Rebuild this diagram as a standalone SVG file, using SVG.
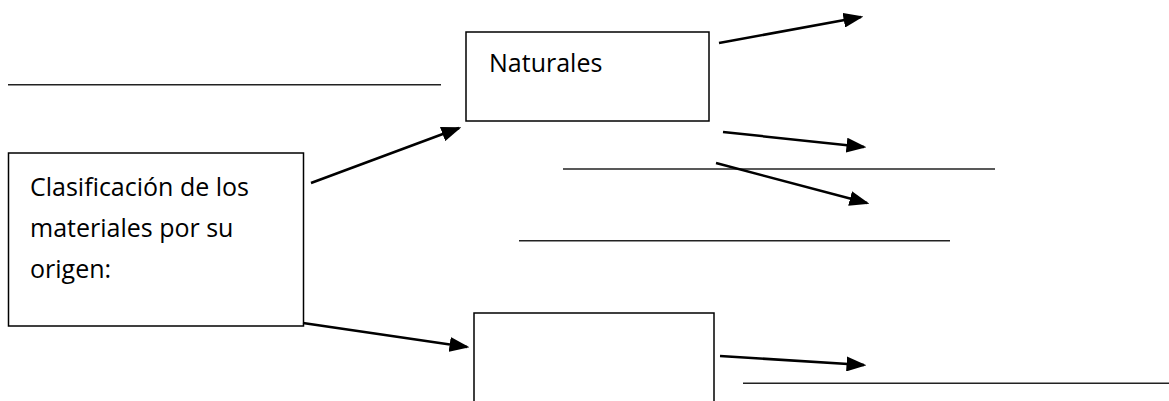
<svg xmlns="http://www.w3.org/2000/svg" width="1169" height="401" viewBox="0 0 1169 401">
<style>
.box{fill:#fff;stroke:#000;stroke-width:1.5}
.lbl{font-family:"Open Sans","Noto Sans",sans-serif;font-size:25px;fill:#000}
.conn{stroke:#000;stroke-width:2.5;fill:none}
.blank{stroke:#222;stroke-width:1.5}
</style>
<defs>
<marker id="ah" markerWidth="8" markerHeight="6" refX="7" refY="3" orient="auto" markerUnits="strokeWidth">
<path d="M0,0 L8,3 L0,6 Z" fill="#000"/>
</marker>
</defs>
<rect width="1169" height="401" fill="#fff"/>
<g id="blanks">
<line class="blank" x1="8" y1="84.7" x2="441" y2="84.7"/>
<line class="blank" x1="563" y1="169" x2="995" y2="169"/>
<line class="blank" x1="519" y1="240.7" x2="950" y2="240.7"/>
<line class="blank" x1="743" y1="383.3" x2="1169" y2="383.3"/>
</g>
<g id="node-clasificacion">
<rect class="box" x="8.5" y="153" width="295" height="173"/>
<text class="lbl" x="30" y="196">Clasificación de los</text>
<text class="lbl" x="30" y="237">materiales por su</text>
<text class="lbl" x="30" y="278">origen:</text>
</g>
<g id="node-naturales">
<rect class="box" x="466" y="32" width="243" height="89"/>
<text class="lbl" x="489" y="72">Naturales</text>
</g>
<g id="node-artificiales">
<rect class="box" x="474" y="313" width="240" height="100"/>
</g>
<g id="connectors">
<line class="conn" x1="311" y1="183" x2="459" y2="128" marker-end="url(#ah)"/>
<line class="conn" x1="303" y1="323" x2="467" y2="347" marker-end="url(#ah)"/>
<line class="conn" x1="719" y1="43" x2="861" y2="17" marker-end="url(#ah)"/>
<line class="conn" x1="723" y1="132" x2="864" y2="147" marker-end="url(#ah)"/>
<line class="conn" x1="716" y1="163" x2="867" y2="203" marker-end="url(#ah)"/>
<line class="conn" x1="720" y1="356" x2="864" y2="365" marker-end="url(#ah)"/>
</g>
</svg>
